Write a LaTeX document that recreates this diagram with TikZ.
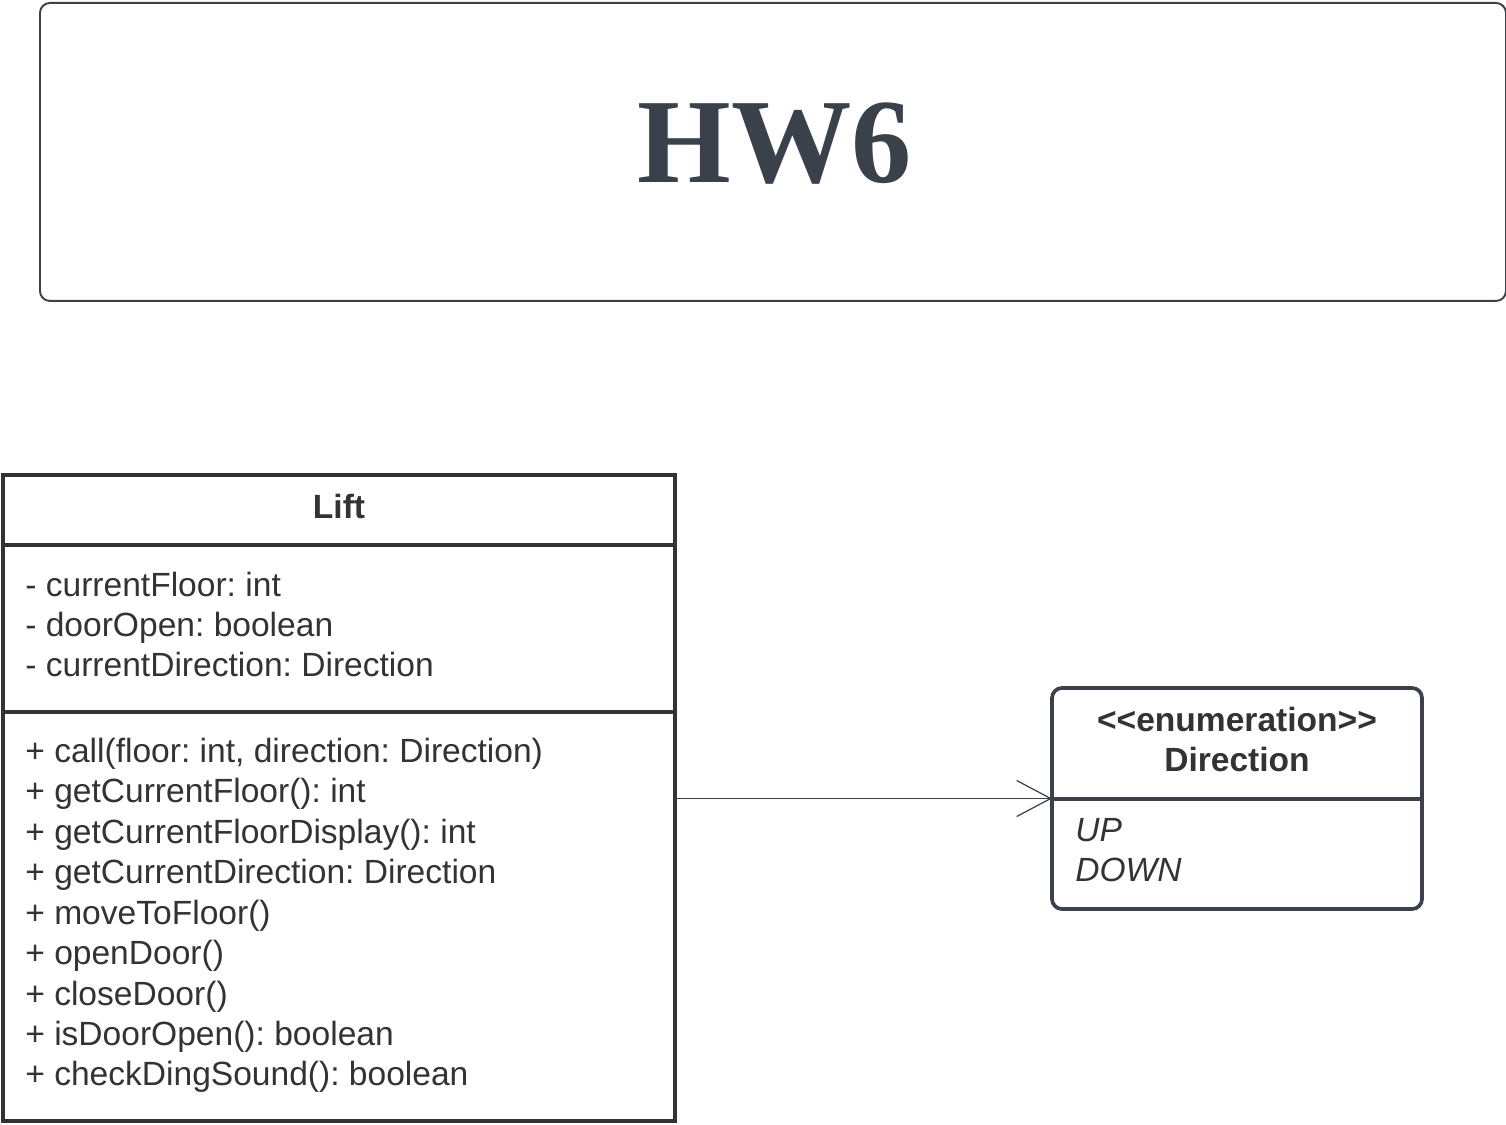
\documentclass[tikz,border=0pt]{standalone}
\usepackage{fontspec}
\setmainfont{Liberation Serif}
\setsansfont{Liberation Sans}
\usepackage{xcolor}
\usepackage{tikz}
\usetikzlibrary{arrows.meta, positioning, calc}

\definecolor{umlline}{HTML}{333333}
\definecolor{slate}{HTML}{3A414B}
\frenchspacing

\begin{document}
\begin{tikzpicture}[
  every node/.style={font=\sffamily\fontsize{19.1}{23}\selectfont, text=umlline},
  titlebox/.style={rectangle, rounded corners=0.2cm, draw=slate, line width=1.1pt,
    minimum width=29.32cm, minimum height=5.96cm, anchor=north west},
  compart/.style={rectangle, draw=umlline, line width=2.2pt, anchor=north,
    minimum width=13.44cm, outer sep=0pt},
  members/.style={anchor=west, align=left, inner xsep=0.44cm, inner ysep=0pt},
  enumbox/.style={rectangle, rounded corners=0.2cm, draw=slate, line width=2.1pt,
    minimum width=7.4cm, minimum height=4.42cm, anchor=north west, outer sep=0pt},
  assoc/.style={-{Straight Barb[length=0.68cm, width=0.72cm]}, draw=slate, line width=0.7pt}
]
  \useasboundingbox (0,0) rectangle (30.12,-22.5);

  % Title banner
  \node[titlebox] (titlebox) at (0.78,-0.04) {};
  \node[font=\rmfamily\bfseries\fontsize{68.5}{68.5}\selectfont, text=slate, anchor=base]
    (title) at (15.5,-3.66) {HW6};

  % Lift class
  \node[compart, minimum height=1.4cm] (lifthead) at (6.78,-9.5) {};
  \node[compart, minimum height=3.34cm, below=0pt of lifthead] (liftattr) {};
  \node[compart, minimum height=8.18cm, below=0pt of liftattr] (liftops) {};
  \node[font=\sffamily\bfseries\fontsize{19.1}{23}\selectfont]
    (liftname) at ($(lifthead.center)+(0,0.08)$) {Lift};
  \node[members] (attrtext) at ($(liftattr.west)+(0,0.08)$)
    {- currentFloor: int\\- doorOpen: boolean\\- currentDirection: Direction};
  \node[members] (opstext) at ($(liftops.west)+(0,0.02)$)
    {+ call(floor: int, direction: Direction)\\
     + getCurrentFloor(): int\\
     + getCurrentFloorDisplay(): int\\
     + getCurrentDirection: Direction\\
     + moveToFloor()\\
     + openDoor()\\
     + closeDoor()\\
     + isDoorOpen(): boolean\\
     + checkDingSound(): boolean};

  % Direction enumeration
  \node[enumbox] (direction) at (21.04,-13.76) {};
  \coordinate (dirsplit) at ($(direction.north)+(0,-2.22)$);
  \draw[draw=slate, line width=2.1pt] (dirsplit -| direction.west) -- (dirsplit -| direction.east);
  \node[align=center, inner sep=0pt, font=\sffamily\bfseries\fontsize{19.1}{23}\selectfont]
    (dirhead) at ($(direction.north)!0.5!(dirsplit)+(0,0.08)$)
    {<\kern0pt<enumeration>\kern0pt>\\Direction};
  \node[members, inner xsep=0.46cm, font=\sffamily\itshape\fontsize{19.1}{23}\selectfont]
    (dirvals) at ($(dirsplit -| direction.west)!0.5!(direction.south west)+(0,0.08)$) {UP\\DOWN};

  % Association
  \draw[assoc] (liftops.east |- direction.west) -- (direction.west);
\end{tikzpicture}
\end{document}
